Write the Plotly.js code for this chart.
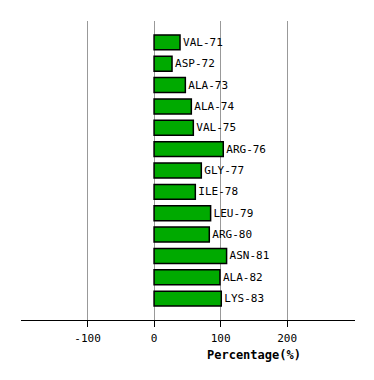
<!DOCTYPE html>
<html>
<head>
<meta charset="utf-8">
<script src="https://cdn.plot.ly/plotly-3.0.1.min.js"></script>
<style>html,body{margin:0;padding:0;background:#fff;}#chart{width:374px;height:380px;}</style>
</head>
<body>
<div id="chart"></div>
<script>
const residues = ["VAL-71","ASP-72","ALA-73","ALA-74","VAL-75","ARG-76","GLY-77","ILE-78","LEU-79","ARG-80","ASN-81","ALA-82","LYS-83"];
const percentages = [39, 27, 47, 56, 59, 104, 71, 62, 85, 83, 109, 99, 101];
const xTicks = [-100, 0, 100, 200];
const axisTitle = "Percentage(%)";

const font = "DejaVu Sans Mono, monospace";

const trace = {
  type: "bar",
  orientation: "h",
  x: percentages,
  y: residues,
  text: residues,
  textposition: "outside",
  cliponaxis: false,
  textfont: {family: font, size: 11, color: "#000"},
  marker: {color: "#00aa00", line: {color: "#000", width: 1.5}},
  width: 0.7,
  hoverinfo: "none"
};

const layout = {
  width: 374, height: 380,
  margin: {l: 21, r: 19, t: 21, b: 60},
  paper_bgcolor: "#fff", plot_bgcolor: "#fff",
  showlegend: false,
  font: {family: font, size: 11, color: "#000"},
  xaxis: {
    range: [-200, 302],
    tickvals: xTicks,
    ticktext: xTicks.map(String),
    showgrid: true, gridcolor: "#999", gridwidth: 1,
    zeroline: true, zerolinecolor: "#999", zerolinewidth: 1,
    showline: true, linecolor: "#000", linewidth: 1,
    ticks: "outside", ticklen: 6, tickcolor: "#000",
    ticklabelstandoff: 2,
    tickfont: {family: font, size: 11, color: "#000"},
    fixedrange: true
  },
  yaxis: {
    type: "category",
    range: [12 + 1, -1],
    showticklabels: false,
    showgrid: false, zeroline: false, showline: false, ticks: "",
    fixedrange: true
  },
  annotations: [{
    text: "<b>" + axisTitle + "</b>",
    xref: "x", yref: "paper",
    x: 150, y: 0, yshift: -35,
    showarrow: false,
    xanchor: "center", yanchor: "middle",
    font: {family: font, size: 12, color: "#000"}
  }]
};

Plotly.newPlot("chart", [trace], layout, {displayModeBar: false, staticPlot: true});
</script>
</body>
</html>
